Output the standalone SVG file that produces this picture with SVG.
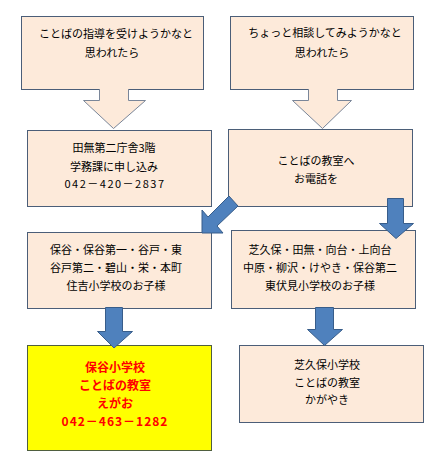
<svg xmlns="http://www.w3.org/2000/svg" width="435" height="464" viewBox="0 0 435 464">
<style>
.box{fill:#FDEADA;stroke:#4B5E78;stroke-width:1}
.ybox{fill:#FFFF00;stroke:#4F5F3F;stroke-width:1}
.parrow{fill:#FDEADA;stroke:#7A8699;stroke-width:1}
.barrow{fill:#4F81BD;stroke:#385D8A;stroke-width:1}
text{font-family:"Noto Sans CJK JP","Noto Sans",sans-serif;font-size:11px;fill:#000;text-anchor:middle}
.r{font-size:12px;font-weight:bold;fill:#FF0000}
.ph{letter-spacing:1.5px}
.rph{letter-spacing:1px}
</style>
<rect width="435" height="464" fill="#fff"/>
<g id="n1"><rect class="box" x="21.5" y="16.5" width="182" height="73"/>
<text x="116" y="38">ことばの指導を受けようかなと</text><text x="112" y="57">思われたら</text></g>
<g id="n2"><rect class="box" x="230.5" y="16.5" width="183" height="73"/>
<text x="325" y="37">ちょっと相談してみようかなと</text><text x="322" y="57">思われたら</text></g>
<g id="n3"><rect class="box" x="27.5" y="130.5" width="184" height="76"/>
<text x="114" y="152">田無第二庁舎3階</text><text x="114" y="171">学務課に申し込み</text><text class="ph" x="115" y="188">042－420－2837</text></g>
<g id="n4"><rect class="box" x="228.5" y="129.5" width="184" height="77"/>
<text x="316" y="165">ことばの教室へ</text><text x="316" y="183">お電話を</text></g>
<g id="n5"><rect class="box" x="27.5" y="232.5" width="184" height="76"/>
<text x="116" y="254">保谷・保谷第一・谷戸・東</text><text x="116" y="272">谷戸第二・碧山・栄・本町</text><text x="116" y="290">住吉小学校のお子様</text></g>
<g id="n6"><rect class="box" x="231.5" y="230.5" width="184" height="78"/>
<text x="320" y="254">芝久保・田無・向台・上向台</text><text x="320" y="272">中原・柳沢・けやき・保谷第二</text><text x="320" y="290">東伏見小学校のお子様</text></g>
<g id="n7"><rect class="ybox" x="27.5" y="345.5" width="184" height="105"/>
<text class="r" x="115" y="372">保谷小学校</text><text class="r" x="115" y="390">ことばの教室</text><text class="r" x="115" y="408">えがお</text><text class="r rph" x="115" y="426">042－463－1282</text></g>
<g id="n8"><rect class="box" x="239.5" y="345.5" width="184" height="77"/>
<text x="327" y="369">芝久保小学校</text><text x="327" y="387">ことばの教室</text><text x="327" y="404">かがやき</text></g>
<g id="connectors">
<path class="parrow" d="M99.5,89 V100.5 H83.5 L113.5,128.5 L145.5,100.5 H128.5 V89"/>
<path class="parrow" d="M308.5,89 V100.5 H292.5 L322.5,128.5 L351.5,100.5 H337.5 V89"/>
<polygon class="barrow" points="229,196 238,206 217,226 223,233 202,233 202,210 208,217"/>
<polygon class="barrow" points="387.5,198.5 403.5,198.5 403.5,223.5 413.5,223.5 396,238.5 379.5,223.5 387.5,223.5"/>
<polygon class="barrow" points="105.5,307.5 122.5,307.5 122.5,331.5 132.5,331.5 114,348 97.5,331.5 105.5,331.5"/>
<polygon class="barrow" points="315.5,307.5 333.5,307.5 333.5,329.5 342.5,329.5 324.5,345.5 307.5,329.5 315.5,329.5"/>
</g>
</svg>
